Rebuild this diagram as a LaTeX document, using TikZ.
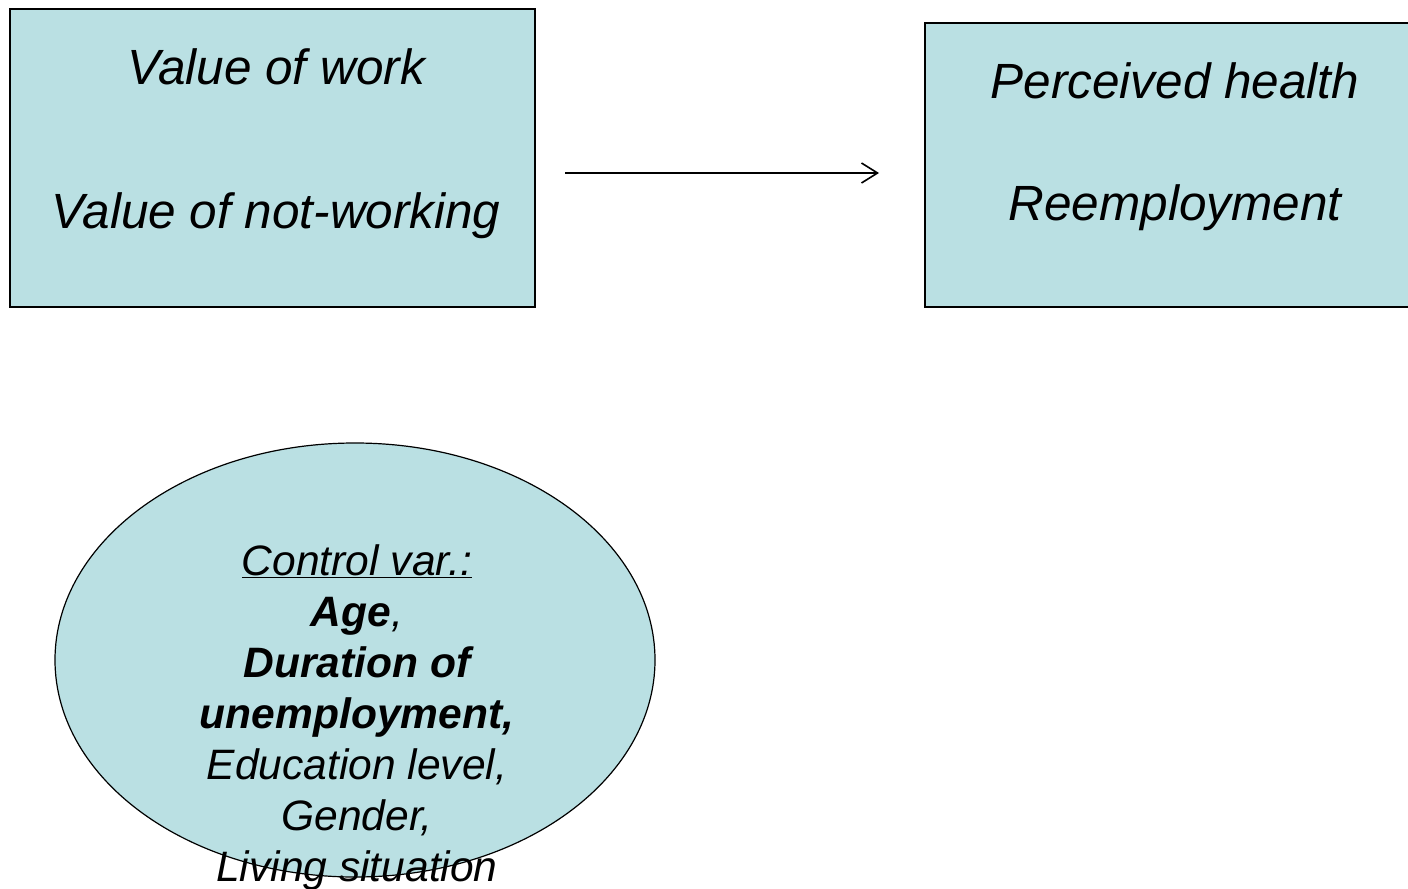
\documentclass[tikz,border=0pt]{standalone}
\usepackage{fontspec}
\setmainfont{Liberation Sans}
\usetikzlibrary{arrows.meta,shapes.geometric}
\definecolor{boxfill}{HTML}{BAE0E3}
\begin{document}
\begin{tikzpicture}[x=0.75pt,y=-0.75pt,
  box/.style={draw=black,line width=1.5pt,fill=boxfill,rectangle,inner sep=0pt,outer sep=0pt},
  oval/.style={draw=black,line width=0.9pt,fill=boxfill,ellipse,inner sep=0pt,outer sep=0pt},
  big/.style={font=\fontsize{37.1}{44}\selectfont\itshape,inner sep=0pt,anchor=base},
  small/.style={font=\fontsize{31.9}{38}\selectfont\itshape,inner sep=0pt,anchor=base},
  conn/.style={line width=1.2pt,-{Straight Barb[length=12pt,width=15pt]}}
]
\fill[white] (0,0) rectangle (1408,888);
\useasboundingbox (0,0) rectangle (1408,888);

\node[box,minimum width=393.75pt,minimum height=223.5pt] (L) at (272.5,158) {};
\node[box,minimum width=365.25pt,minimum height=213pt] (R) at (1168.5,165) {};
\node[oval,minimum width=450pt,minimum height=325.5pt] (E) at (355,660) {};

\node[big] (l1) at (276,85) {Value of work};
\node[big] (l2) at (276,228) {Value of not-working};
\node[big] (r1) at (1175,99) {Perceived health};
\node[big] (r2) at (1175,220) {Reemployment};

\coordinate (a1) at (565,173);
\coordinate (a2) at (879,173);
\draw[conn] (a1) -- (a2);

\node[small] (t1) at (357,575) {\underline{Control var.:}};
\node[small] (t2) at (357,626) {\textbf{Age},};
\node[small] (t3) at (357,677) {\textbf{Duration of}};
\node[small] (t4) at (357,728) {\textbf{unemployment,}};
\node[small] (t5) at (357,779) {Education level,};
\node[small] (t6) at (357,830) {Gender,};
\node[small] (t7) at (357,881) {Living situation};
\end{tikzpicture}
\end{document}
